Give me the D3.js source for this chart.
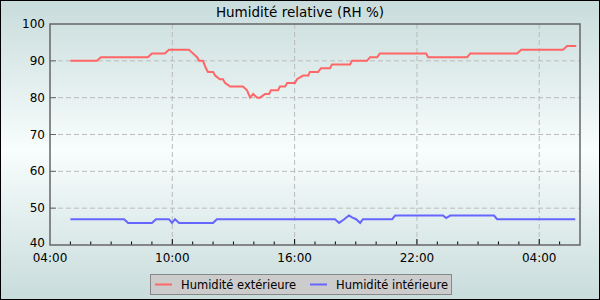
<!DOCTYPE html>
<meta charset="utf-8">
<title>Humidité relative</title>
<script src="https://d3js.org/d3.v7.min.js"></script>
<style>
body {margin: 0; font-family: "DejaVu Sans", sans-serif;}
.grid line {stroke: #bbb; stroke-dasharray: 5,3;}
</style>
<body>
<div id="chart"></div>
<script>
// data (times after midnight belong to the next day)
var outTimes = ["05:00","06:18","06:30","08:48","09:00","09:38","09:50","10:49","10:55","11:13","11:19","11:30","11:39","11:45","12:00","12:06","12:20","12:29","12:35","12:50","13:28","13:40","13:49","13:58","14:10","14:18","14:33","14:45","14:50","15:11","15:17","15:32","15:38","16:01","16:07","16:25","16:40","16:45","17:09","17:18","17:44","17:50","18:43","18:49","19:33","19:42","20:03","20:11","22:27","22:33","00:28","00:37","02:55","03:07","05:10","05:22","05:49"];
var outValues = [90,90,91,91,92,92,93,93,92.5,91,90,90,88,87,87,86,85,85,84,83,83,82,80,81,80,80,81,81,82,82,83,83,84,84,85,86,86,87,87,88,88,89,89,90,90,91,91,92,92,91,91,92,92,93,93,94,94];

var inTimes = ["05:00","07:38","07:50","09:00","09:12","09:50","09:59","10:08","10:20","12:00","12:11","17:59","18:11","18:26","18:40","18:49","19:01","19:13","19:21","20:47","20:56","23:17","23:26","23:38","01:47","01:56","05:46"];
var inValues = [47,47,46,46,47,47,46,47,46,46,47,47,46,47,48,47.5,47,46,47,47,48,48,47.3,48,48,47,47];

var yTicks = [40,50,60,70,80,90,100];
var seriesNames = ["Humidité extérieure", "Humidité intérieure"];
var seriesColors = ["#f66", "#66f"];

var W = 600, H = 300;
var margin = {top: 24, right: 20, bottom: 55, left: 50};
var width = W - margin.left - margin.right,
    height = H - margin.top - margin.bottom;

function toDates(times) {
  var day = 1, prev = -1;
  return times.map(function(t) {
    var p = t.split(":"), m = +p[0] * 60 + +p[1];
    if (m < prev) day++;
    prev = m;
    return new Date(2024, 0, day, +p[0], +p[1]);
  });
}
var outData = toDates(outTimes).map(function(d, i) { return {t: d, v: outValues[i]}; });
var inData = toDates(inTimes).map(function(d, i) { return {t: d, v: inValues[i]}; });

var svg = d3.select("#chart").append("svg")
  .attr("width", W).attr("height", H);

var grad = svg.append("defs").append("linearGradient")
  .attr("id", "bg").attr("x1", 0).attr("y1", 0).attr("x2", 0).attr("y2", 1);
grad.append("stop").attr("offset", "0%").attr("stop-color", "#c8dcdb");
grad.append("stop").attr("offset", "50%").attr("stop-color", "#f8fdfd");
grad.append("stop").attr("offset", "100%").attr("stop-color", "#c8dcdb");

svg.append("rect").attr("x", 0.5).attr("y", 0.5)
  .attr("width", W - 1).attr("height", H - 1)
  .attr("fill", "url(#bg)").attr("stroke", "#000");

svg.append("text")
  .attr("x", W / 2).attr("y", 17)
  .attr("text-anchor", "middle")
  .style("font-size", "13.5px")
  .text("Humidité relative (RH %)");

var g = svg.append("g")
  .attr("transform", "translate(" + margin.left + "," + margin.top + ")");

var t0 = new Date(2024, 0, 1, 4), t1 = new Date(2024, 0, 2, 6);
var x = d3.scaleTime().domain([t0, t1]).range([0, width]);
var y = d3.scaleLinear().domain([40, 100]).range([height, 0]);

var majorTicks = d3.timeHour.range(t0, t1, 6);
var minorTicks = d3.timeHour.range(t0, t1);

// grid
g.append("g").attr("class", "grid")
  .selectAll("line").data(yTicks.slice(1, -1)).enter().append("line")
    .attr("x1", 0).attr("x2", width)
    .attr("y1", function(d) { return y(d); }).attr("y2", function(d) { return y(d); });
g.append("g").attr("class", "grid")
  .selectAll("line").data(majorTicks.slice(1)).enter().append("line")
    .attr("y1", 0).attr("y2", height)
    .attr("x1", function(d) { return x(d); }).attr("x2", function(d) { return x(d); });

// x axis ticks (inside)
g.append("g").selectAll("line").data(minorTicks.slice(1)).enter().append("line")
  .attr("x1", function(d) { return x(d); }).attr("x2", function(d) { return x(d); })
  .attr("y1", height).attr("y2", function(d) { return d.getHours() % 6 == 4 ? height - 6 : height - 3.5; })
  .attr("stroke", "#000");
g.append("g").selectAll("text").data(majorTicks).enter().append("text")
  .attr("x", function(d) { return x(d); }).attr("y", height + 16.5)
  .attr("text-anchor", "middle")
  .style("font-size", "12px")
  .text(d3.timeFormat("%H:%M"));

// y axis ticks
g.append("g").selectAll("line").data(yTicks.slice(1, -1)).enter().append("line")
  .attr("x1", 0).attr("x2", 6)
  .attr("y1", function(d) { return y(d); }).attr("y2", function(d) { return y(d); })
  .attr("stroke", "#666");
g.append("g").selectAll("text").data(yTicks).enter().append("text")
  .attr("x", -5).attr("y", function(d) { return y(d) + (d == 40 ? 1.5 : 4); })
  .attr("text-anchor", "end")
  .style("font-size", "12px")
  .text(function(d) { return d; });

// plot frame
g.append("rect").attr("width", width).attr("height", height)
  .attr("fill", "none").attr("stroke", "#666").attr("stroke-width", 1.5);

var line = d3.line()
  .x(function(d) { return x(d.t); })
  .y(function(d) { return y(d.v); });

[outData, inData].forEach(function(data, i) {
  g.append("path").datum(data)
    .attr("fill", "none")
    .attr("stroke", seriesColors[i])
    .attr("stroke-width", 2)
    .attr("d", line);
});

// legend
var lg = svg.append("g");
lg.append("rect").attr("x", 150.5).attr("y", 274.5).attr("width", 301).attr("height", 20)
  .attr("fill", "#ccc").attr("stroke", "#888");
var legX = [155, 310];
seriesNames.forEach(function(name, i) {
  lg.append("line")
    .attr("x1", legX[i]).attr("x2", legX[i] + 17)
    .attr("y1", 284.5).attr("y2", 284.5)
    .attr("stroke", seriesColors[i]).attr("stroke-width", 2);
  lg.append("text")
    .attr("x", legX[i] + 26).attr("y", 288.5)
    .style("font-size", "11.5px")
    .text(name);
});
</script>
